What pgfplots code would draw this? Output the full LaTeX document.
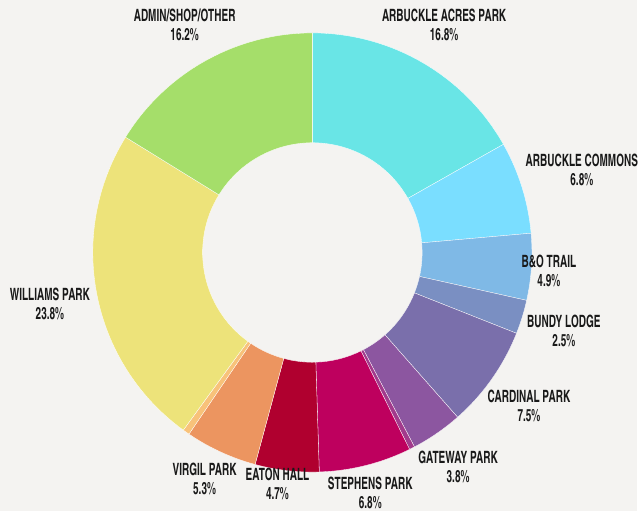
\documentclass[border=0pt]{standalone}
\usepackage{pgfplots}
\pgfplotsset{compat=1.18}
\usepackage{pgfplotstable}
\usepackage{fontspec}
\setmainfont{TeX Gyre Heros Cn}[FakeStretch=0.72]

\definecolor{bg}{HTML}{F4F3F1}
\definecolor{cAcres}{HTML}{69E5E6}
\definecolor{cCommons}{HTML}{7ADEFF}
\definecolor{cTrail}{HTML}{7FB9E6}
\definecolor{cBundy}{HTML}{7A8FC2}
\definecolor{cCardinal}{HTML}{7A6FAB}
\definecolor{cGateway}{HTML}{8C56A0}
\definecolor{cSmallA}{HTML}{A23A8C}
\definecolor{cStephens}{HTML}{BE005E}
\definecolor{cEaton}{HTML}{B0002F}
\definecolor{cVirgil}{HTML}{EC9560}
\definecolor{cSmallB}{HTML}{F8C27A}
\definecolor{cWilliams}{HTML}{EDE37A}
\definecolor{cAdmin}{HTML}{A5DE6A}

% share of budget, clockwise from 12 o'clock
\pgfplotstableread{
value col
16.8 cAcres
6.8  cCommons
4.9  cTrail
2.5  cBundy
7.5  cCardinal
3.8  cGateway
0.4  cSmallA
6.8  cStephens
4.7  cEaton
5.3  cVirgil
0.5  cSmallB
23.8 cWilliams
16.2 cAdmin
}\slices

\begin{document}
\begin{tikzpicture}[
  lbl/.style={font=\bfseries\fontsize{17bp}{19bp}\selectfont, align=center, text=black!90, inner sep=0pt},
]
\begin{axis}[
  x=1bp, y=1bp,
  xmin=0, xmax=638, ymin=0, ymax=512,
  hide axis, clip=false,
]
\fill[bg] (axis cs:0,0) rectangle (axis cs:638,512);
\pgfplotsextra{
  \pgfplotstablegetrowsof{\slices}
  \pgfmathtruncatemacro\nlast{\pgfplotsretval-1}
  \def\cum{0}
  \pgfplotsforeachungrouped \i in {0,...,\nlast}{
    \pgfplotstablegetelem{\i}{value}\of\slices \let\v\pgfplotsretval
    \pgfplotstablegetelem{\i}{col}\of\slices \let\c\pgfplotsretval
    \pgfmathsetmacro\a{90-3.6*\cum}
    \pgfmathsetmacro\b{90-3.6*(\cum+\v)}
    \fill[\c, draw=white, line width=0.3pt, line join=round]
      (axis cs:313,259) ++(\a:220bp)
      arc[start angle=\a, end angle=\b, radius=220bp]
      -- ++(\b:-110bp)
      arc[start angle=\b, end angle=\a, radius=110bp] -- cycle;
    \pgfmathsetmacro\cum{\cum+\v}
  }
}
\node[lbl] at (axis cs:185,487) {ADMIN/SHOP/OTHER\\16.2\%};
\node[lbl] at (axis cs:445,487) {ARBUCKLE ACRES PARK\\16.8\%};
\node[lbl] at (axis cs:583,342) {ARBUCKLE COMMONS\\6.8\%};
\node[lbl] at (axis cs:550,241) {B\&O TRAIL\\4.9\%};
\node[lbl] at (axis cs:565,180) {BUNDY LODGE\\2.5\%};
\node[lbl] at (axis cs:530,105) {CARDINAL PARK\\7.5\%};
\node[lbl] at (axis cs:459,44)  {GATEWAY PARK\\3.8\%};
\node[lbl] at (axis cs:371,18)  {STEPHENS PARK\\6.8\%};
\node[lbl] at (axis cs:278,27)  {EATON HALL\\4.7\%};
\node[lbl] at (axis cs:205,32)  {VIRGIL PARK\\5.3\%};
\node[lbl] at (axis cs:50,207)  {WILLIAMS PARK\\23.8\%};
\end{axis}
\end{tikzpicture}
\end{document}
